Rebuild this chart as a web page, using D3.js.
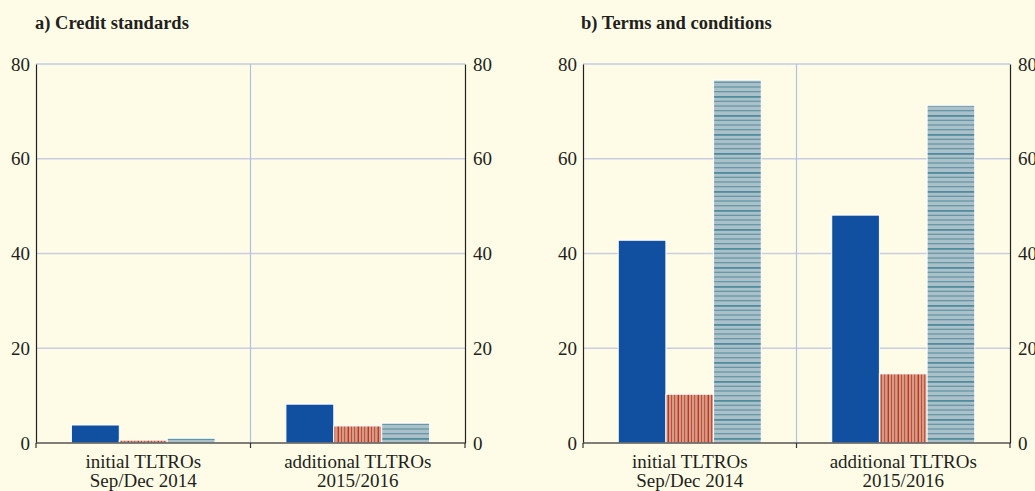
<!DOCTYPE html>
<html><head><meta charset="utf-8">
<script src="https://cdn.jsdelivr.net/npm/d3@7"></script>
<style>body{margin:0;background:#fefce6;} svg{display:block;}</style>
</head><body>
<svg id="c" width="1035" height="491"></svg>
<script>
const categories = ["initial TLTROs|Sep/Dec 2014", "additional TLTROs|2015/2016"];
const series = ["s1", "s2", "s3"];
const panelTitles = ["a) Credit standards", "b) Terms and conditions"];
const creditStandards = [[3.8, 0.6, 1.0], [8.2, 3.6, 4.2]];
const termsConditions = [[42.8, 10.3, 76.6], [48.1, 14.6, 71.3]];
const yTicks = [0, 20, 40, 60, 80];

const svg = d3.select("#c");
const defs = svg.append("defs");
const pr = defs.append("pattern").attr("id","pRed").attr("patternUnits","userSpaceOnUse").attr("width",10).attr("height",10);
pr.append("rect").attr("width",10).attr("height",10).attr("fill","#d99a83");
[[1,0.8],[4.3,0.8],[7.6,1.4]].forEach(([x,w])=>pr.append("rect").attr("x",x).attr("width",w).attr("height",10).attr("fill","#b23a2c"));
const pb = defs.append("pattern").attr("id","pBlue").attr("patternUnits","userSpaceOnUse").attr("width",10).attr("height",19);
pb.append("rect").attr("width",10).attr("height",19).attr("fill","#abc0c9");
[[1,1.8],[5.75,1],[10.5,1],[15.25,1]].forEach(([y,h])=>pb.append("rect").attr("y",y).attr("height",h).attr("width",10).attr("fill","#4f8c9d"));

const fills = ["#1150a0", "url(#pRed)", "url(#pBlue)"];

const panels = [
  {x0: 36, x1: 465, data: creditStandards, title: panelTitles[0], tx: 35},
  {x0: 583, x1: 1010, data: termsConditions, title: panelTitles[1], tx: 581}
];
const yTop = 64, yBot = 443;
const font = "'Liberation Serif','Times New Roman',serif";
const fs = 19;

panels.forEach(p => {
  const g = svg.append("g");
  const y = d3.scaleLinear().domain([0, 80]).range([yBot, yTop]);
  const x = d3.scaleBand().domain(categories).range([p.x0, p.x1]).padding(0);
  const bw = x.bandwidth();
  const xs = d3.scaleBand().domain(series).range([bw*0.165, bw*0.835]).padding(0);

  g.append("text").attr("x", p.tx).attr("y", 29).attr("font-family", font)
   .attr("font-weight","bold").attr("font-size", 18.5).attr("fill","#231f20").text(p.title);

  g.selectAll(".gl").data(yTicks.filter(d=>d>0)).join("line")
   .attr("x1", p.x0).attr("x2", p.x1).attr("y1", d=>y(d)).attr("y2", d=>y(d))
   .attr("stroke", d=> d===80 ? "#a3b5e3" : "#c9cde2").attr("stroke-width", d=> d===80 ? 1 : 1.5);
  g.append("line").attr("x1", x(categories[1])).attr("x2", x(categories[1]))
   .attr("y1", yTop).attr("y2", yBot).attr("stroke","#b3bfe3").attr("stroke-width",1.2);

  categories.forEach((c, ci) => {
    g.selectAll(null).data(p.data[ci]).join("rect")
     .attr("x", (d,i)=> x(c) + xs(series[i]))
     .attr("width", xs.bandwidth())
     .attr("y", d=> y(d)).attr("height", d=> yBot - y(d))
     .attr("fill", (d,i)=> fills[i]).attr("stroke","#ffffff").attr("stroke-width",1);
  });

  const left = d3.axisLeft(y).tickValues(yTicks).tickSize(0).tickPadding(6);
  const gl = g.append("g").attr("transform", `translate(${p.x0},0)`).call(left);
  const right = d3.axisRight(y).tickValues(yTicks).tickSize(0).tickPadding(8);
  const gr = g.append("g").attr("transform", `translate(${p.x1},0)`).call(right);
  [gl, gr].forEach(a => {
    a.select(".domain").attr("stroke","#222").attr("stroke-width",1.2);
    a.selectAll("text").attr("font-family", font).attr("font-size", fs).attr("fill","#231f20");
  });
  g.append("line").attr("x1", p.x0).attr("x2", p.x1).attr("y1", yBot).attr("y2", yBot)
   .attr("stroke","#555").attr("stroke-width",1.5);
  const bticks = [p.x0, x(categories[1]), p.x1];
  g.selectAll(".bt").data(bticks).join("line")
   .attr("x1", d=>d).attr("x2", d=>d).attr("y1", yBot).attr("y2", yBot+5)
   .attr("stroke","#333").attr("stroke-width",1.2);
  categories.forEach(c => {
    const lines = c.split("|");
    const t = g.append("text").attr("text-anchor","middle")
      .attr("font-family", font).attr("font-size", fs).attr("fill","#231f20");
    lines.forEach((l, i) => t.append("tspan").attr("x", x(c)+bw/2).attr("y", 468 + i*19).text(l));
  });
});
</script>
</body></html>
